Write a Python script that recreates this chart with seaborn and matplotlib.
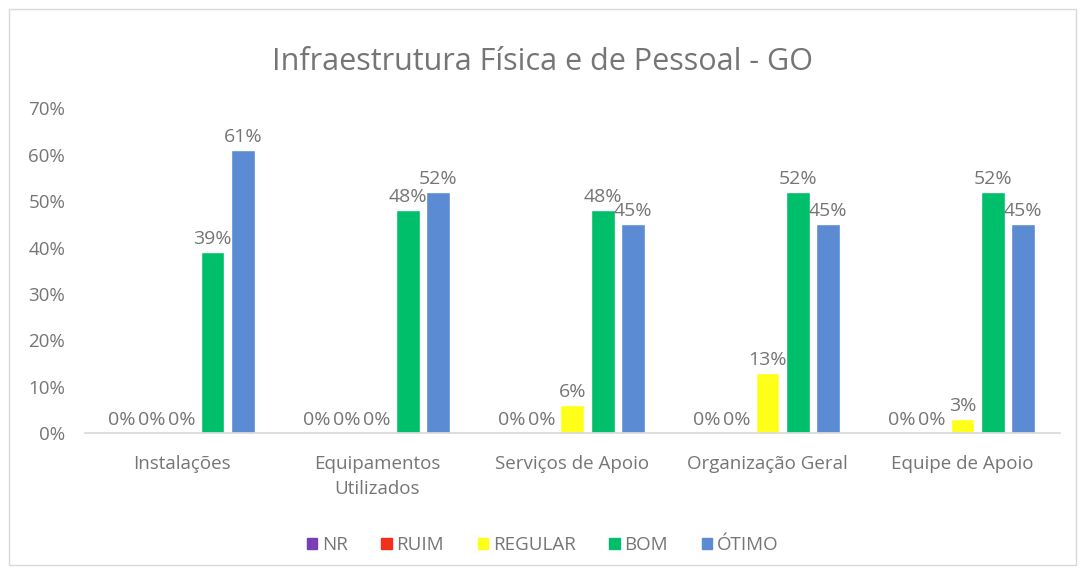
import matplotlib
matplotlib.use("Agg")
import matplotlib.pyplot as plt
import seaborn as sns
import pandas as pd
from matplotlib.patches import Rectangle
from matplotlib.ticker import PercentFormatter

categories = ["Instalações", "Equipamentos\nUtilizados", "Serviços de Apoio", "Organização Geral", "Equipe de Apoio"]
series = ["NR", "RUIM", "REGULAR", "BOM", "ÓTIMO"]
nr = [0.00, 0.00, 0.00, 0.00, 0.00]
ruim = [0.00, 0.00, 0.00, 0.00, 0.00]
regular = [0.00, 0.00, 0.06, 0.13, 0.03]
bom = [0.39, 0.48, 0.48, 0.52, 0.52]
otimo = [0.61, 0.52, 0.45, 0.45, 0.45]
colors = ["#7A3DB8", "#F2301E", "#FFFF1A", "#00BF6A", "#5B8BD2"]

values = {"NR": nr, "RUIM": ruim, "REGULAR": regular, "BOM": bom, "ÓTIMO": otimo}
rows = []
for s in series:
    for c, v in zip(categories, values[s]):
        rows.append({"Categoria": c, "Série": s, "Valor": v})
df = pd.DataFrame(rows)

sns.set_theme(style="white")
plt.rcParams['font.family'] = ['Open Sans', 'DejaVu Sans']
txt = "#757575"

fig = plt.figure(figsize=(10.85, 5.73), dpi=100)
ax = fig.add_axes([0.078, 0.244, 0.899, 0.567])

sns.barplot(data=df, x="Categoria", y="Valor", hue="Série", hue_order=series,
            order=categories, palette=colors, width=0.78, ax=ax, saturation=1,
            legend=True)

for cont in ax.containers:
    for b in cont:
        b.set_width(b.get_width() * 0.78)
        b.set_x(b.get_x() + b.get_width() * 0.14)
    ax.bar_label(cont, labels=[f"{b.get_height()*100:.0f}%" for b in cont],
                 padding=3, fontsize=14, color=txt)

ax.set_ylim(0, 0.7)
ax.set_yticks([0, 0.1, 0.2, 0.3, 0.4, 0.5, 0.6, 0.7])
ax.yaxis.set_major_formatter(PercentFormatter(1.0, decimals=0))
ax.set_xlim(-0.5, 4.5)
ax.set_xlabel("")
ax.set_ylabel("")
for sp in ["top", "right", "left"]:
    ax.spines[sp].set_visible(False)
ax.spines["bottom"].set_color("#d9d9d9")
ax.tick_params(axis="both", length=0, labelsize=13.5, colors=txt)
ax.tick_params(axis="x", pad=16)
ax.tick_params(axis="y", pad=14)
for lab in ax.get_xticklabels():
    lab.set_linespacing(1.5)

fig.text(0.5, 0.892, "Infraestrutura Física e de Pessoal - GO", ha="center", va="center",
         fontsize=22, color=txt)

ax.get_legend().remove()
handles = [Rectangle((0, 0), 1, 1, color=c) for c in colors]
fig.legend(handles, series, loc="center", bbox_to_anchor=(0.5, 0.049), ncol=5,
           frameon=False, fontsize=13.5, labelcolor=txt, handlelength=0.55,
           handleheight=0.55, handletextpad=0.25, columnspacing=1.8)

fig.patches.append(Rectangle((0.008, 0.014), 0.984, 0.97, transform=fig.transFigure,
                             fill=False, edgecolor="#d9d9d9", linewidth=1))

fig.savefig("out.png", dpi=100)
